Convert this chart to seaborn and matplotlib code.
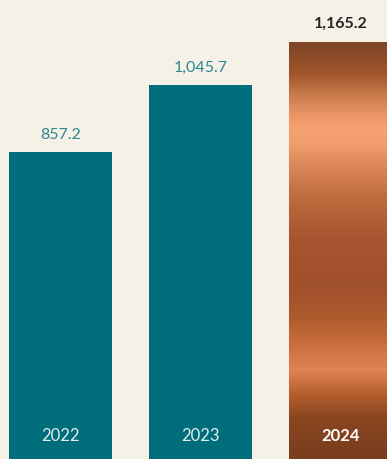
import numpy as np
import pandas as pd
import matplotlib
matplotlib.use("Agg")
import matplotlib.pyplot as plt
from matplotlib.colors import LinearSegmentedColormap
import seaborn as sns

### DATA
years = ["2022", "2023", "2024"]
values = [857.2, 1045.7, 1165.2]
value_labels = ["857.2", "1,045.7", "1,165.2"]

df = pd.DataFrame({"year": years, "value": values})

BG = "#f6f1e7"
TEAL = "#006d7a"

sns.set_style("white")
plt.rcParams["font.family"] = ["Lato", "DejaVu Sans"]

fig = plt.figure(figsize=(3.87, 4.6), dpi=100, facecolor=BG)
ax = fig.add_axes([0, 0, 1, 1])
ax.set_facecolor(BG)

sns.barplot(data=df, x="year", y="value", color=TEAL, width=0.736,
            saturation=1, linewidth=0, edgecolor="none", ax=ax)

ax.set_xlim(-60.5 / 140, (387 - 60.5) / 140)
ax.set_ylim(0, 460 / 0.3579)
ax.axis("off")

### copper gradient on the last bar
stops = [(43, "#7e4527"), (60, "#8f4c28"), (75, "#a3552c"), (95, "#c87a4c"),
         (115, "#eb9466"), (128, "#f6a272"), (145, "#f29d6d"), (170, "#d98456"),
         (200, "#bd6a3e"), (240, "#a85430"), (290, "#a0502b"), (320, "#b05b2f"),
         (345, "#c86d3c"), (372, "#df8452"), (395, "#b8602f"), (420, "#8a4620"),
         (460, "#7a3d1e")]
pos = [(y - 43) / (460 - 43) for y, _ in stops]
cmap = LinearSegmentedColormap.from_list("copper_bar", list(zip(pos, [c for _, c in stops])))

bar = ax.patches[2]
bx, bw, bh = bar.get_x(), bar.get_width(), bar.get_height()
bar.set_facecolor("none")
grad = np.linspace(0, 1, 400).reshape(-1, 1)
img = ax.imshow(grad, cmap=cmap, aspect="auto", extent=[bx, bx + bw, 0, bh],
                origin="upper", zorder=bar.get_zorder())
img.set_clip_path(bar)
ax.set_xlim(-60.5 / 140, (387 - 60.5) / 140)
ax.set_ylim(0, 460 / 0.3579)

### labels
for i, (v, lab) in enumerate(zip(values, value_labels)):
    last = i == len(values) - 1
    ax.annotate(lab, (i, v), xytext=(0, 14 if last else 13), textcoords="offset points",
                ha="center", va="center", fontsize=11.5,
                color="#262626" if last else "#2b8791",
                fontweight="bold" if last else "normal")
    ax.annotate(years[i], (i, 0), xytext=(0, 17.5), textcoords="offset points",
                ha="center", va="center", fontsize=12, color="#e3eeee" if not last else "white",
                fontweight="bold" if last else "normal")

fig.savefig("out.png", dpi=100, facecolor=BG)
